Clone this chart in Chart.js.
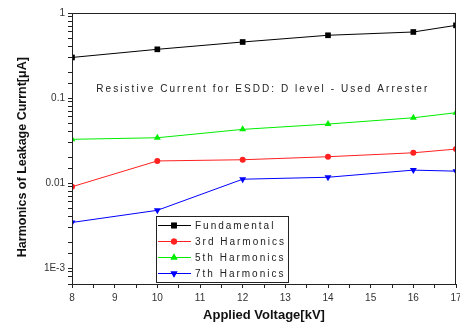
<!DOCTYPE html>
<html>
<head>
<meta charset="utf-8">
<script src="https://cdn.jsdelivr.net/npm/chart.js@4"></script>
<style>
  html, body { margin: 0; padding: 0; background: #fff; }
  #wrap { width: 460px; height: 329px; }
</style>
</head>
<body>
<div id="wrap"><canvas id="harmChart" width="460" height="329"></canvas></div>
<script>
// applied voltage [kV]
const voltages = [8, 10, 12, 14, 16, 17];
// harmonics of leakage current [uA]
const fundamental = [0.30, 0.374, 0.456, 0.547, 0.598, 0.716];
const thirdHarm = [0.00905, 0.0182, 0.0188, 0.0204, 0.0227, 0.0251];
const fifthHarm = [0.0327, 0.0341, 0.0428, 0.0494, 0.0586, 0.0672];
const seventhHarm = [0.00344, 0.00478, 0.0111, 0.0117, 0.0142, 0.0138];

const seriesNames = ["Fundamental", "3rd Harmonics", "5th Harmonics", "7th Harmonics"];
const seriesColors = ["#000000", "#ff2020", "#00ee00", "#0000ff"];
const yTickLabels = { "0": "1", "-1": "0.1", "-2": "0.01", "-3": "1E-3" };
const noteText = "Resistive Current for ESDD: D level - Used Arrester";

const toPoints = vals => vals.map((v, i) => ({ x: voltages[i], y: v }));

const styles = [
  { pointStyle: "rect", pointRadius: 4, rot: 0 },
  { pointStyle: "circle", pointRadius: 3, rot: 0 },
  { pointStyle: "triangle", pointRadius: 4, rot: 0 },
  { pointStyle: "triangle", pointRadius: 4, rot: 180 },
];

const allSeries = [fundamental, thirdHarm, fifthHarm, seventhHarm];

const datasets = allSeries.map((vals, i) => ({
  label: seriesNames[i],
  data: toPoints(vals),
  borderColor: seriesColors[i],
  backgroundColor: seriesColors[i],
  borderWidth: 1,
  pointStyle: styles[i].pointStyle,
  pointRadius: styles[i].pointRadius,
  pointRotation: styles[i].rot,
  pointBorderWidth: 0,
  tension: 0,
}));

// box around plot, annotation text and legend box
const framePlugin = {
  id: "frame",
  afterDraw(chart) {
    const { ctx, chartArea: a, scales } = chart;
    ctx.save();
    ctx.strokeStyle = "#222";
    ctx.lineWidth = 1;
    ctx.strokeRect(Math.round(a.left) + 0.5, Math.round(a.top) + 0.5,
      Math.round(a.right - a.left) - 1, Math.round(a.bottom - a.top));

    // note text
    ctx.font = "10px 'Liberation Sans', Arial, sans-serif";
    ctx.fillStyle = "#222";
    ctx.letterSpacing = "2.05px";
    ctx.textBaseline = "middle";
    ctx.textAlign = "left";
    ctx.fillText(noteText, scales.x.getPixelForValue(8.57), scales.y.getPixelForValue(0.128));

    // legend
    const lx = a.left + 84, ly = a.top + 203, lw = 132, lh = 66;
    ctx.fillStyle = "#fff";
    ctx.fillRect(lx, ly, lw, lh);
    ctx.strokeStyle = "#222";
    ctx.strokeRect(lx + 0.5, ly + 0.5, lw, lh);
    ctx.letterSpacing = "2px";
    chart.data.datasets.forEach((ds, i) => {
      const ry = ly + 9 + i * 16;
      ctx.strokeStyle = ds.borderColor;
      ctx.beginPath();
      ctx.moveTo(lx + 2, ry + 0.5);
      ctx.lineTo(lx + 35, ry + 0.5);
      ctx.stroke();
      ctx.fillStyle = ds.backgroundColor;
      Chart.helpers.drawPoint(ctx, {
        pointStyle: ds.pointStyle, radius: ds.pointRadius,
        rotation: ds.pointRotation, borderWidth: 0,
      }, lx + 18, ry + 0.5);
      ctx.fill();
      ctx.fillStyle = "#222";
      ctx.fillText(ds.label, lx + 39, ry + 1);
    });
    ctx.restore();
  },
};

new Chart(document.getElementById("harmChart"), {
  type: "line",
  data: { datasets },
  plugins: [framePlugin],
  options: {
    responsive: false,
    animation: false,
    layout: { padding: { top: 13, right: 4, left: 0, bottom: 0 } },
    plugins: { legend: { display: false }, tooltip: { enabled: false } },
    scales: {
      x: {
        type: "linear",
        min: 8,
        max: 17,
        afterFit: s => {
          s.height = 45;
          s.paddingRight = 0;
          s.paddingLeft = 0;
        },
        afterBuildTicks: s => {
          const t = [];
          for (let v = 8; v <= 17; v += 0.5) t.push({ value: v });
          s.ticks = t;
        },
        ticks: {
          autoSkip: false,
          maxRotation: 0,
          padding: 4,
          color: "#333",
          font: { family: "'Liberation Sans', Arial, sans-serif", size: 10 },
          callback: v => (Number.isInteger(v) ? String(v) : ""),
        },
        grid: { drawOnChartArea: false, tickLength: 4, color: "#222" },
        border: { color: "#222" },
        title: {
          display: true,
          text: "Applied Voltage[kV]",
          color: "#111",
          font: { family: "'Liberation Sans', Arial, sans-serif", size: 13, weight: "bold" },
          padding: { top: 0, bottom: 6 },
        },
      },
      y: {
        type: "logarithmic",
        min: 0.00065,
        max: 1,
        afterFit: s => { s.width = 72; },
        ticks: {
          autoSkip: false,
          padding: 3,
          color: "#333",
          font: { family: "'Liberation Sans', Arial, sans-serif", size: 10 },
          callback: v => {
            const e = Math.log10(v);
            const r = Math.round(e);
            return Math.abs(e - r) < 1e-9 ? (yTickLabels[String(r)] || "") : "";
          },
        },
        grid: { drawOnChartArea: false, tickLength: 4, color: "#222" },
        border: { color: "#222" },
        title: {
          display: true,
          text: "Harmonics of Leakage Currnt[μA]     ",
          color: "#111",
          font: { family: "'Liberation Sans', Arial, sans-serif", size: 12.5, weight: "bold" },
          padding: { top: 15, bottom: 0 },
        },
      },
    },
  },
});
</script>
</body>
</html>
